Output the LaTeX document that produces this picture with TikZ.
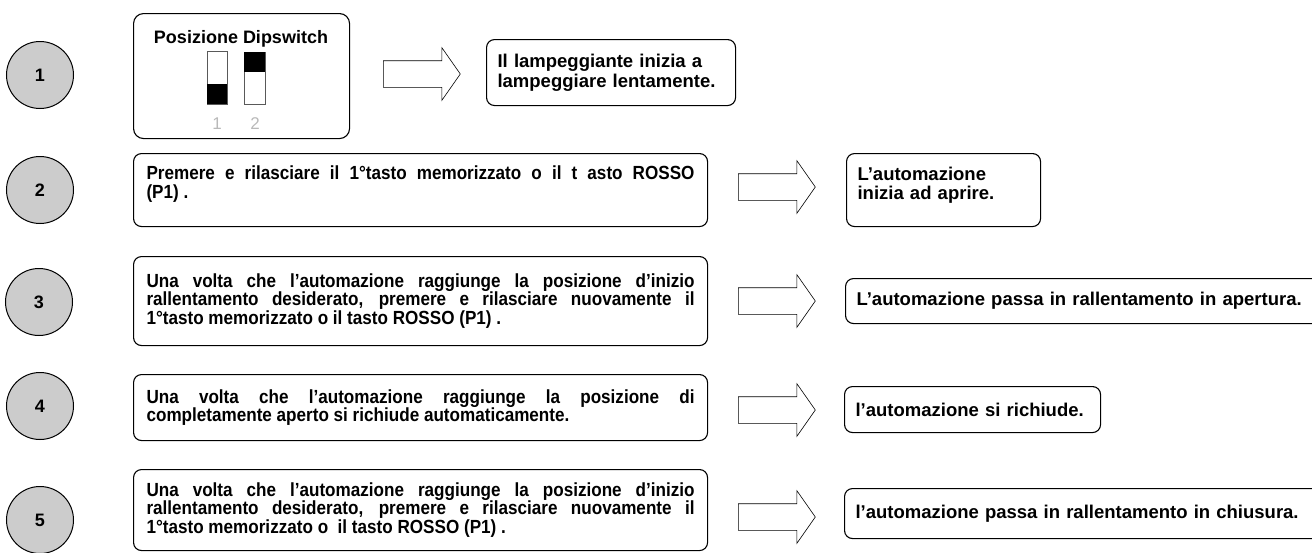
\documentclass[tikz,border=0pt]{standalone}
\usepackage{fontspec}
\setmainfont{Liberation Sans}
\newfontfamily\narrowsans[FakeStretch=0.9]{Liberation Sans}
\usepackage{xcolor}
\usepackage{tikz}
\usetikzlibrary{shapes.arrows, positioning}

\begin{document}
\begin{tikzpicture}[x=1pt, y=-1pt,
  num/.style={circle, draw, line width=1pt, fill=gray!40, minimum size=67pt, inner sep=0pt, font=\fontsize{18}{20}\selectfont\bfseries},
  stepbox/.style={draw, line width=1.1pt, rounded corners=8pt, anchor=north west, inner xsep=13pt, inner ysep=0pt, text width=548pt, align=justify, font=\narrowsans\fontsize{19}{18.5}\selectfont\bfseries},
  outbox/.style={draw, line width=1.1pt, rounded corners=8pt, anchor=north west, inner xsep=11pt, inner ysep=0pt, align=left, font=\fontsize{18.5}{19.5}\selectfont\bfseries},
  blockarrow/.style={single arrow, draw, line width=0.6pt, minimum height=77pt, inner xsep=0pt, inner ysep=13pt, single arrow head extend=13pt, single arrow tip angle=110, anchor=tail},
  swlabel/.style={text=gray!55, font=\fontsize{17}{17}\selectfont, anchor=base}]
\useasboundingbox (0,0) rectangle (1312,552);
\node[num] (n1) at (40,75) {1};
\node[num] (n2) at (40,190) {2};
\node[num] (n3) at (39,302) {3};
\node[num] (n4) at (40,406) {4};
\node[num] (n5) at (40,520) {5};
\node[draw, line width=1.1pt, rounded corners=10pt, anchor=north west, minimum width=216pt, minimum height=125pt] (dip) at (133,13) {};
\node[anchor=base, font=\fontsize{18}{18}\selectfont\bfseries] (diptitle) at (241,43) {Posizione Dipswitch};
\draw[line width=0.5pt, gray!70!black] (207,51) rectangle (227,104);
\fill (207,84) rectangle (227,104);
\draw[line width=0.5pt, gray!70!black] (244,52) rectangle (265,104);
\fill (244,52) rectangle (265,72);
\node[swlabel] (sw1) at (217,129) {1};
\node[swlabel] (sw2) at (255,129) {2};
\node[blockarrow] (a1) at (383,74) {};
\node[outbox, text width=227pt, minimum height=66pt] (lamp) at (486,39) {Il lampeggiante inizia a\\lampeggiare lentamente.};
\node[stepbox, minimum height=73pt] (s2) at (133,153) {Premere e rilasciare il 1°tasto memorizzato o il t asto ROSSO\linebreak (P1) .\par\vspace{12pt}\hrule height 0pt};
\node[blockarrow] (a2) at (738,187) {};
\node[outbox, text width=172pt, minimum height=73pt] (r2) at (846,153) {L’automazione\\inizia ad aprire.\par\vspace{10pt}\hrule height 0pt};
\node[stepbox, minimum height=89pt] (s3) at (133,256) {Una volta che l’automazione raggiunge la posizione d’inizio\linebreak rallentamento desiderato, premere e rilasciare nuovamente il\linebreak 1°tasto memorizzato o il tasto ROSSO (P1) .};
\node[blockarrow] (a3) at (738,301) {};
\node[outbox, text width=453pt, minimum height=45pt] (r3) at (845,278) {L’automazione passa in rallentamento in apertura.};
\node[stepbox, minimum height=66pt] (s4) at (133,374) {Una volta che l’automazione raggiunge la posizione di\linebreak completamente aperto si richiude automaticamente.};
\node[blockarrow] (a4) at (738,410) {};
\node[outbox, text width=234pt, minimum height=46pt] (r4) at (844,386) {l’automazione si richiude.};
\node[stepbox, minimum height=81pt] (s5) at (133,469) {Una volta che l’automazione raggiunge la posizione d’inizio\linebreak rallentamento desiderato, premere e rilasciare nuovamente il\linebreak 1°tasto memorizzato o\ \ il tasto ROSSO (P1) .};
\node[blockarrow] (a5) at (738,517) {};
\node[outbox, text width=454pt, minimum height=50pt] (r5) at (844,488) {l’automazione passa in rallentamento in chiusura.};
\end{tikzpicture}
\end{document}
